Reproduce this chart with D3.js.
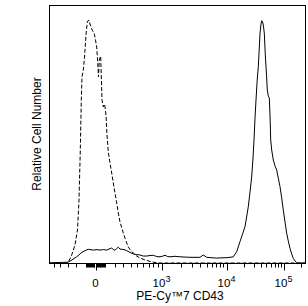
<!DOCTYPE html>
<html>
<head>
<meta charset="utf-8">
<script src="https://cdn.jsdelivr.net/npm/d3@7"></script>
<style>
  body { margin: 0; background: #fff; }
  text { font-family: "Liberation Sans", Arial, sans-serif; fill: #000; }
</style>
</head>
<body>
<div id="chart"></div>
<script>
// histogram channels (0-256 on display scale) and relative counts (0-100)
let isoChannel = [15, 19, 22.7, 26, 28.5, 30, 31.3, 32.3, 33, 34.3, 35.3, 36, 37, 38.3, 39.7, 40.7, 42.3, 43.7, 45.3, 46.5, 47.7, 48.7, 49.5, 50.3, 51.7, 53, 54.3, 55.5, 56.5, 57.3, 58, 59.3, 61, 62.7, 64.3, 66, 67.7, 69.3, 71, 74.3, 77, 79.3, 82, 84.3, 87, 91, 96, 101, 106, 111, 151, 256];
let isoCount = [0, 0, 3.1, 7.0, 12.8, 24.4, 43.8, 63.2, 72.1, 74.8, 78.7, 82.6, 88.4, 93.4, 94.2, 93.0, 91.1, 89.9, 88.8, 86.4, 83.7, 77.9, 72.1, 78.7, 80.2, 63.2, 60.5, 61.6, 59.3, 55.4, 49.6, 43.0, 38.8, 34.9, 31.0, 27.1, 23.3, 19.4, 15.9, 11.6, 8.5, 6.2, 4.7, 3.9, 2.9, 1.9, 1.2, 0.6, 0.2, 0, 0, 0];

let cd43Channel = [1, 11, 19, 23, 27.7, 32.7, 36, 39.3, 44.3, 48, 51, 54.5, 57.7, 60, 62.7, 64.3, 66, 67.7, 69.3, 71, 72.7, 75, 77.7, 81, 84.3, 87.7, 91, 94.3, 97.7, 101, 104.3, 107.7, 111, 114, 116, 118.5, 121, 126, 131, 136, 141, 146, 151, 154.3, 157.7, 161, 167.7, 173, 179, 184.3, 187.7, 191, 193.5, 196, 199.3, 201, 202.7, 204, 205, 206, 207, 208.2, 209.3, 210.2, 211, 212, 212.7, 213.5, 214.3, 215.3, 216.3, 217.5, 218.3, 219.3, 220.3, 221, 221.7, 222.7, 224.3, 226, 227.7, 229.3, 231, 232.7, 234.3, 236, 237.7, 239.3, 241, 242.7, 244.3, 246, 247.7, 249.5, 256];
let cd43Count = [0.1, 0.2, 0.3, 1.2, 2.4, 4.1, 4.8, 5.3, 5.0, 5.2, 5.0, 5.2, 5.0, 5.4, 5.8, 5.2, 5.0, 5.6, 6.1, 5.4, 5.3, 5.2, 4.8, 4.1, 3.5, 3.3, 3.1, 2.7, 2.7, 2.9, 3.0, 2.5, 2.4, 2.7, 3.0, 2.5, 2.4, 2.6, 2.4, 2.3, 2.2, 2.2, 2.2, 3.1, 2.2, 2.1, 1.9, 2.0, 2.1, 2.4, 4.4, 8.3, 11.2, 14.1, 21.8, 27.5, 33.4, 40.7, 47.7, 56.2, 63.2, 70.9, 76.1, 82.6, 89.1, 92.6, 93.9, 93.6, 92.2, 89.1, 80.6, 72.9, 67.1, 64.7, 64.0, 57.4, 47.7, 43.8, 39.9, 37.6, 36.0, 32.9, 29.6, 25.2, 20.5, 15.9, 11.5, 8.5, 5.7, 3.5, 1.8, 0.8, 0.1, 0, 0];

// axis ticks in fluorescence units
let majorTicks = [0, 1e3, 1e4, 1e5];
let majorExp = ['', '3', '4', '5'];
let minorTicks = [-500, -400, -300, -200, -100, -90, -80, -70, -60, -50, -40, -30, -20, -10,
    10, 20, 30, 40, 50, 60, 70, 80, 90,
    100, 200, 300, 400, 500, 600, 700, 800, 900,
    2000, 3000, 4000, 5000, 6000, 7000, 8000, 9000,
    2e4, 3e4, 4e4, 5e4, 6e4, 7e4, 8e4, 9e4, 2e5];

let width = 308, height = 306;
let plotL = 49, plotR = 305, plotT = 5, plotB = 263;

let svg = d3.select('#chart')
    .append('svg')
    .attr('width', width)
    .attr('height', height);

let x = d3.scaleLinear().domain([0, 256]).range([plotL, plotR]);
let y = d3.scaleLinear().domain([0, 100]).range([plotB, plotT]);

// biexponential-ish display transform: value -> channel
let u = v => Math.asinh(v / 400);
let biex = d3.scaleLinear()
    .domain([-600, 0, 1000, 1e4, 1e5, 262144].map(u))
    .range([-1.3, 46.5, 112.5, 177.5, 234.5, 258.4]);
let tx = v => x(biex(u(v)));

let line = d3.line()
    .x(d => x(d[0]))
    .y(d => y(d[1]));

svg.append('path')
    .datum(d3.zip(isoChannel, isoCount))
    .attr('d', line)
    .attr('fill', 'none')
    .attr('stroke', 'black')
    .attr('stroke-width', 1)
    .attr('stroke-dasharray', '4,2');

svg.append('path')
    .datum(d3.zip(cd43Channel, cd43Count))
    .attr('d', line)
    .attr('fill', 'none')
    .attr('stroke', 'black')
    .attr('stroke-width', 1);

// frame
svg.append('rect')
    .attr('x', plotL + 0.5)
    .attr('y', plotT + 0.5)
    .attr('width', plotR - plotL)
    .attr('height', plotB - plotT)
    .attr('fill', 'none')
    .attr('stroke', 'black')
    .attr('stroke-width', 1);

// ticks
let axisG = svg.append('g').attr('transform', `translate(0,${plotB + 0.5})`);

axisG.selectAll('line.minor')
    .data(minorTicks.filter(v => tx(v) >= plotL && tx(v) <= plotR))
    .join('line')
    .attr('class', 'minor')
    .attr('x1', d => Math.round(tx(d)) + 0.5)
    .attr('x2', d => Math.round(tx(d)) + 0.5)
    .attr('y1', 0)
    .attr('y2', 4)
    .attr('stroke', 'black');

axisG.selectAll('line.major')
    .data(majorTicks)
    .join('line')
    .attr('class', 'major')
    .attr('x1', d => Math.round(tx(d)) + 0.5)
    .attr('x2', d => Math.round(tx(d)) + 0.5)
    .attr('y1', 0)
    .attr('y2', 7)
    .attr('stroke', 'black');

let labels = axisG.selectAll('text.tick')
    .data(majorTicks)
    .join('text')
    .attr('class', 'tick')
    .attr('x', d => tx(d))
    .attr('y', 23)
    .attr('text-anchor', 'middle')
    .style('font-size', '11.5px');

labels.each(function(d, i) {
    let t = d3.select(this);
    if (majorExp[i] === '') {
        t.text('0');
    } else {
        t.append('tspan').text('10');
        t.append('tspan')
            .attr('dy', -5)
            .style('font-size', '9px')
            .text(majorExp[i]);
    }
});

svg.append('text')
    .attr('x', 180)
    .attr('y', 300)
    .attr('text-anchor', 'middle')
    .style('font-size', '12px')
    .text('PE-Cy\u21227 CD43');

svg.append('text')
    .attr('transform', `translate(41,${(plotT + plotB) / 2}) rotate(-90)`)
    .attr('text-anchor', 'middle')
    .style('font-size', '12px')
    .text('Relative Cell Number');
</script>
</body>
</html>
